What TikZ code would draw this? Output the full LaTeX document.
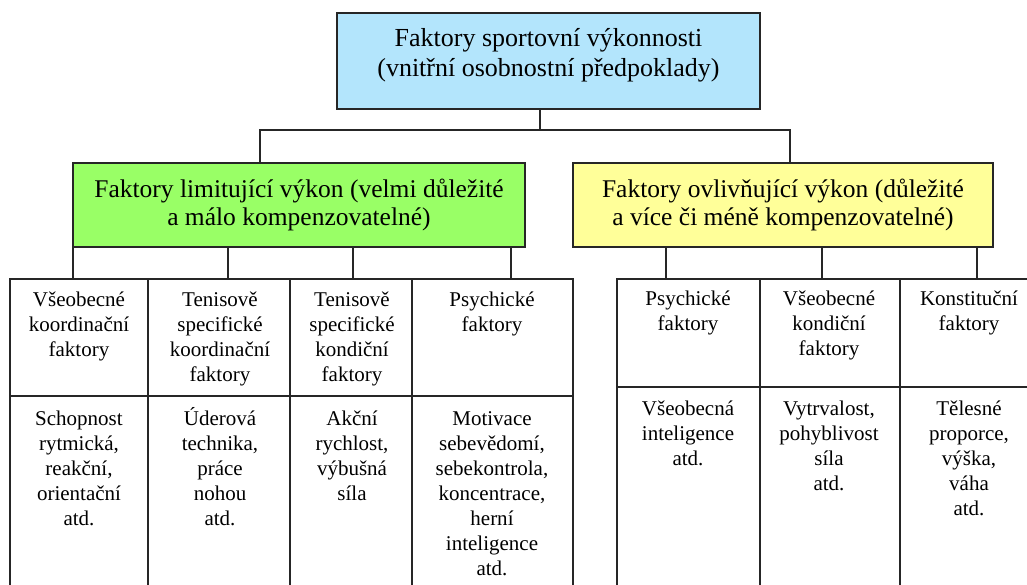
\documentclass[tikz,border=0pt]{standalone}
\usepackage{fontspec}
\setmainfont{Liberation Serif}
\definecolor{topblue}{RGB}{179,229,252}
\definecolor{limgreen}{RGB}{153,255,102}
\definecolor{infyellow}{RGB}{255,255,153}
\newcommand\bigfont{\fontsize{26}{30}\selectfont}
\newcommand\midfont{\fontsize{25.5}{28}\selectfont}
\newcommand\tabfont{\fontsize{21}{25}\selectfont}
\tikzset{
  box/.style={draw=black!85, line width=1.4pt, rectangle, inner sep=0pt},
  cellbox/.style={draw=black!85, line width=1.4pt, rectangle, inner sep=0pt},
  celltext/.style={anchor=north, align=center, inner sep=0pt, font=\tabfont},
  link/.style={draw=black!85, line width=1.4pt},
}
\begin{document}
\begin{tikzpicture}[x=1pt,y=-1pt]
\useasboundingbox (0,0) rectangle (1027,585);
\clip (0,0) rectangle (1027,585);
\fill[white] (0,0) rectangle (1027,585);

% top box
\node[box, fill=topblue, minimum width=423, minimum height=96] (top) at (548.5,61) {};
\node[align=center, inner sep=0pt, font=\bigfont] (toptext) at (548.5,55)
  {Faktory sportovní výkonnosti\\(vnitřní osobnostní předpoklady)};

% middle boxes
\node[box, fill=limgreen, minimum width=452, minimum height=84, align=center, font=\midfont] (lim) at (299,205)
  {Faktory limitující výkon (velmi důležité\\a málo kompenzovatelné)};
\node[box, fill=infyellow, minimum width=420, minimum height=84, align=center, font=\midfont] (inf) at (783,205)
  {Faktory ovlivňující výkon (důležité\\a více či méně kompenzovatelné)};

% connectors top
\coordinate (tx) at (540,130);
\coordinate (L) at (260,130);
\coordinate (R) at (790,130);
\draw[link] (top.south -| tx) -- (tx);
\draw[link] (lim.north -| L) -- (L) -- (R) -- (inf.north -| R);

% left table cells
\node[cellbox, minimum width=138, minimum height=117] (h1) at (79,337.5) {};
\node[cellbox, minimum width=142, minimum height=117] (h2) at (219,337.5) {};
\node[cellbox, minimum width=122, minimum height=117] (h3) at (351,337.5) {};
\node[cellbox, minimum width=161, minimum height=117] (h4) at (492.5,337.5) {};
\node[cellbox, minimum width=138, minimum height=204] (b1) at (79,498) {};
\node[cellbox, minimum width=142, minimum height=204] (b2) at (219,498) {};
\node[cellbox, minimum width=122, minimum height=204] (b3) at (351,498) {};
\node[cellbox, minimum width=161, minimum height=204] (b4) at (492.5,498) {};

% right table cells
\node[cellbox, minimum width=143, minimum height=108] (g1) at (688.5,333) {};
\node[cellbox, minimum width=140, minimum height=108] (g2) at (830,333) {};
\node[cellbox, minimum width=138, minimum height=108] (g3) at (969,333) {};
\node[cellbox, minimum width=143, minimum height=213] (c1) at (688.5,493.5) {};
\node[cellbox, minimum width=140, minimum height=213] (c2) at (830,493.5) {};
\node[cellbox, minimum width=138, minimum height=213] (c3) at (969,493.5) {};

% connectors to tables
\foreach \x/\n in {73/h1,228/h2,353/h3,511/h4}{
  \coordinate (lc\n) at (\x,279);
  \draw[link] (lim.south -| lc\n) -- (lc\n);
}
\foreach \x/\n in {666/g1,822/g2,977/g3}{
  \coordinate (rc\n) at (\x,279);
  \draw[link] (inf.south -| rc\n) -- (rc\n);
}

% left table texts
\node[celltext] (th1) at (79,288.5) {\strut Všeobecné\\koordinační\\faktory};
\node[celltext] (th2) at (220,288.5) {\strut Tenisově\\specifické\\koordinační\\faktory};
\node[celltext] (th3) at (352,288.5) {\strut Tenisově\\specifické\\kondiční\\faktory};
\node[celltext] (th4) at (492,288.5) {\strut Psychické\\faktory};
\node[celltext] (tb1) at (79,407.5) {\strut Schopnost\\rytmická,\\reakční,\\orientační\\atd.};
\node[celltext] (tb2) at (220,407.5) {\strut Úderová\\technika,\\práce\\nohou\\atd.};
\node[celltext] (tb3) at (352,407.5) {\strut Akční\\rychlost,\\výbušná\\síla};
\node[celltext] (tb4) at (492,407.5) {\strut Motivace\\sebevědomí,\\sebekontrola,\\koncentrace,\\herní\\inteligence\\atd.};

% right table texts
\node[celltext] (tg1) at (688,287.5) {\strut Psychické\\faktory};
\node[celltext] (tg2) at (829,287.5) {\strut Všeobecné\\kondiční\\faktory};
\node[celltext] (tg3) at (969,287.5) {\strut Konstituční\\faktory};
\node[celltext] (tc1) at (688,397.5) {\strut Všeobecná\\inteligence\\atd.};
\node[celltext] (tc2) at (829,397.5) {\strut Vytrvalost,\\pohyblivost\\síla\\atd.};
\node[celltext] (tc3) at (969,397.5) {\strut Tělesné\\proporce,\\výška,\\váha\\atd.};
\end{tikzpicture}
\end{document}
